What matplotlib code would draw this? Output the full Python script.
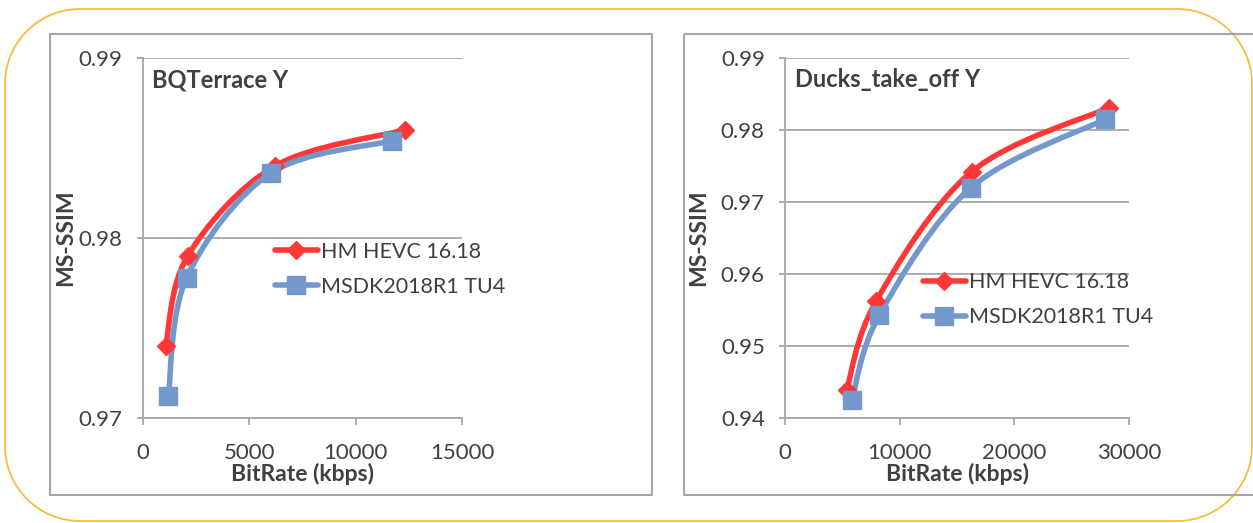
import numpy as np
import matplotlib.pyplot as plt
from matplotlib.path import Path
from matplotlib.patches import PathPatch, Rectangle
from matplotlib.lines import Line2D

plt.rcParams['font.family'] = ['Lato', 'DejaVu Sans']

# data
series_names = ['HM HEVC 16.18', 'MSDK2018R1 TU4']

bq_title = 'BQTerrace Y'
bq_hm_rate = [1080, 2110, 6210, 12320]
bq_hm_ssim = [0.9740, 0.9790, 0.9840, 0.9860]
bq_msdk_rate = [1200, 2070, 6010, 11720]
bq_msdk_ssim = [0.9712, 0.9778, 0.9836, 0.9854]
bq_xticks = [0, 5000, 10000, 15000]
bq_yticks = [0.97, 0.98, 0.99]

dk_title = 'Ducks_take_off Y'
dk_hm_rate = [5380, 7940, 16280, 28260]
dk_hm_ssim = [0.9439, 0.9562, 0.9742, 0.9831]
dk_msdk_rate = [5840, 8230, 16220, 27940]
dk_msdk_ssim = [0.9425, 0.9543, 0.9720, 0.9815]
dk_xticks = [0, 10000, 20000, 30000]
dk_yticks = [0.94, 0.95, 0.96, 0.97, 0.98, 0.99]

RED = '#FF3737'
BLUE = '#7399CC'
GRID = '#A6A6A6'
TXT = '#404040'

W, H = 1253, 523
fig = plt.figure(figsize=(W / 100, H / 100), dpi=100)

# background: orange rounded frame and the two grey chart boxes (pixel coords)
bg = fig.add_axes([0, 0, 1, 1], zorder=0)
bg.set_xlim(0, W)
bg.set_ylim(H, 0)
bg.axis('off')


def rounded_frame(x0, y0, x1, y1, r):
    t = np.linspace(0, np.pi / 2, 30)
    pts = []
    for cx, cy, a0 in [(x1 - r, y0 + r, -np.pi / 2), (x1 - r, y1 - r, 0),
                       (x0 + r, y1 - r, np.pi / 2), (x0 + r, y0 + r, np.pi)]:
        pts += list(zip(cx + r * np.cos(a0 + t), cy + r * np.sin(a0 + t)))
    pts.append(pts[0])
    return Path(pts)


bg.add_patch(PathPatch(rounded_frame(5, 9, 1252, 521, 75), fill=False,
                       edgecolor='#F5BD3C', lw=1.3))
bg.add_patch(Rectangle((50, 34), 602, 461, fill=False, edgecolor=GRID, lw=1.5))
bg.add_patch(Rectangle((684, 34), 600, 461, fill=False, edgecolor=GRID, lw=1.5))


def smooth_path(xs, ys):
    # excel style smoothed line (catmull-rom as cubic beziers)
    p = np.column_stack([xs, ys]).astype(float)
    ext = np.vstack([p[0], p, p[-1]])
    verts = [p[0]]
    codes = [Path.MOVETO]
    for i in range(len(p) - 1):
        p0, p1, p2, p3 = ext[i], ext[i + 1], ext[i + 2], ext[i + 3]
        verts += [p1 + (p2 - p0) / 6, p2 - (p3 - p1) / 6, p2]
        codes += [Path.CURVE4] * 3
    return Path(verts, codes)


def draw(rect, title, hm_x, hm_y, ms_x, ms_y, xticks, yticks, leg_xy):
    ax = fig.add_axes(rect, zorder=2)
    ax.patch.set_alpha(0)
    ax.set_xlim(xticks[0], xticks[-1])
    ax.set_ylim(yticks[0], yticks[-1])
    ax.set_xticks(xticks)
    ax.set_yticks(yticks)
    ax.set_xticklabels([str(t) for t in xticks])
    ax.set_yticklabels(['%.2f' % t for t in yticks])
    ax.grid(axis='y', color=GRID, lw=1.3)
    ax.set_axisbelow(True)
    for s in ['top', 'right']:
        ax.spines[s].set_visible(False)
    for s in ['left', 'bottom']:
        ax.spines[s].set_color(GRID)
        ax.spines[s].set_linewidth(1.3)
    ax.tick_params(axis='y', length=4.5, width=1.3, color=GRID, labelsize=16,
                   labelcolor=TXT, pad=10)
    ax.tick_params(axis='x', length=5, width=1.3, color=GRID, labelsize=16,
                   labelcolor=TXT, pad=13)

    for xs, ys, c, m, ms in [(hm_x, hm_y, RED, 'D', 9.5), (ms_x, ms_y, BLUE, 's', 12.5)]:
        ax.add_patch(PathPatch(smooth_path(xs, ys), fill=False, edgecolor=c, lw=4,
                               capstyle='round', joinstyle='round', zorder=3))
        ax.plot(xs, ys, linestyle='none', marker=m, ms=ms, color=c, mec=c, zorder=4,
                clip_on=False)

    ax.text(0.028, 0.94, title, transform=ax.transAxes, fontsize=17, fontweight='bold',
            color=TXT, ha='left', va='center')
    ax.set_xlabel('BitRate (kbps)', fontsize=16.5, fontweight='bold', color=TXT, labelpad=0)
    ax.set_ylabel('MS-SSIM', fontsize=16.5, fontweight='bold', color=TXT)

    handles = [Line2D([], [], color=RED, lw=4, marker='D', ms=9.5, solid_capstyle='round'),
               Line2D([], [], color=BLUE, lw=4, marker='s', ms=12.5, solid_capstyle='round')]
    ax.legend(handles, series_names, loc='upper left', bbox_to_anchor=leg_xy, frameon=False,
              fontsize=15.5, handlelength=2.0, handletextpad=0.15, labelspacing=0.7,
              borderpad=0, borderaxespad=0, labelcolor=TXT)
    return ax


ax1 = draw([142.7 / W, 1 - 418 / H, 319.3 / W, 360 / H], bq_title,
           bq_hm_rate, bq_hm_ssim, bq_msdk_rate, bq_msdk_ssim, bq_xticks, bq_yticks,
           (0.414, 0.49))
ax2 = draw([785 / W, 1 - 418 / H, 344 / W, 360 / H], dk_title,
           dk_hm_rate, dk_hm_ssim, dk_msdk_rate, dk_msdk_ssim, dk_xticks, dk_yticks,
           (0.401, 0.405))

ax1.yaxis.set_label_coords(-0.209, 0.5)
ax2.yaxis.set_label_coords(-0.221, 0.5)

fig.savefig('out.png', dpi=100)
